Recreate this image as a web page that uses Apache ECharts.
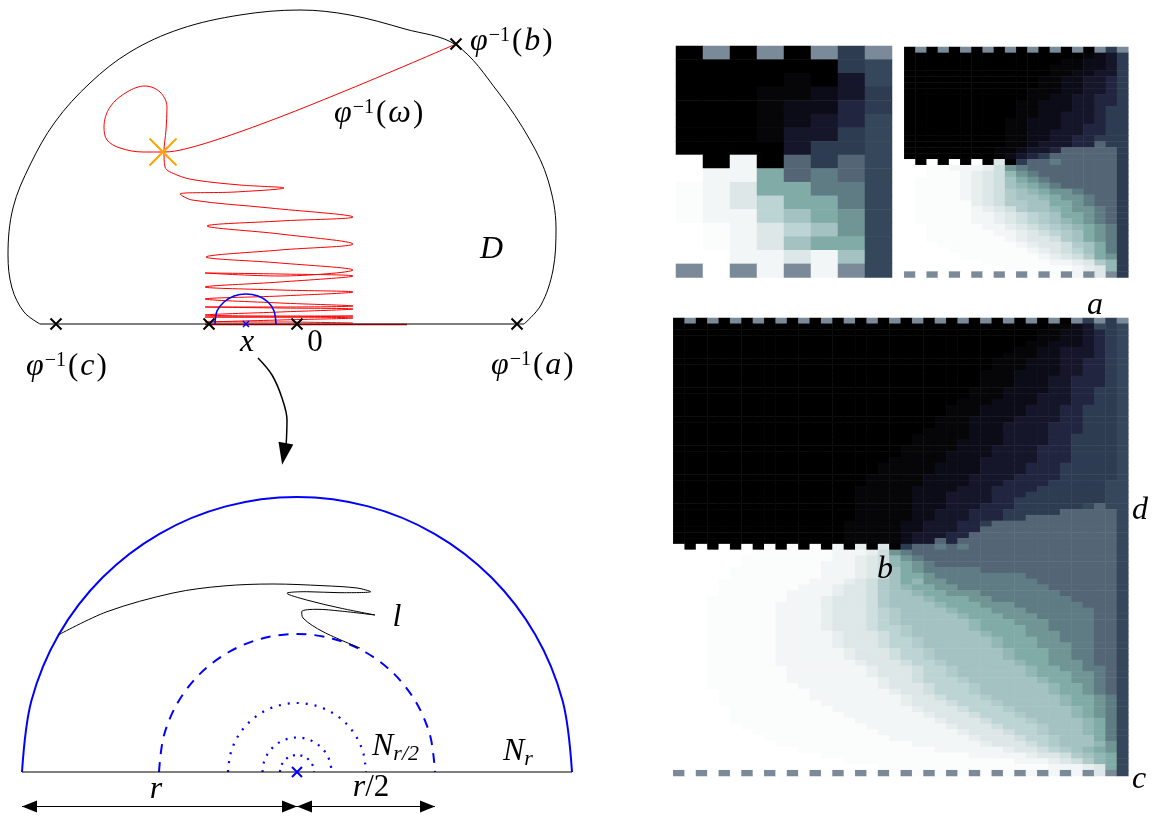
<!DOCTYPE html>
<html><head><meta charset="utf-8">
<style>html,body{margin:0;padding:0;background:#fff}#c{width:1154px;height:818px}</style>
<script src="https://cdn.jsdelivr.net/npm/echarts@6/dist/echarts.min.js"></script>
</head><body><div id="c"></div>
<script>
// level alphabet for the three heat panels
const LEVELS = '0123456789avbzcydxefwg';
const LEVEL_COLORS = ['#000000','#060609','#0c0c18','#16162b','#22253f','#2e3c52','#35475a','#546676','#5f7c84','#719594','#81aba6','#92b7b4','#a3c2c1','#b0cbca','#bdd4d4','#cfdede','#dde7e7','#e8eeee','#f3f6f6','#fbfcfc','#ffffff','#7b8a99'];

const panelA = [
'0g0g0g5g','00000056','00001036','00011235','00012245','00012346','00013356','00003556',
'w0e07576','weea7876','fedaa886','fedcaa86','feecba96','wfedcb96','wfedbaa6','wweedeb6','gwgegeg6'
];

const panelB = [
'0g0g0g0g0g 0g0g0g0g5g',
'0000000000 0000001235',
'0000000000 0000112235',
'0000000000 0001112235',
'0000000000 0001122335',
'0000000000 0011223345',
'0000000000 0011223345',
'0000000000 0111223345',
'0000000000 0112233445',
'0000000000 1122233445',
'0000000000 1122233455',
'0000000000 1122333455',
'0000000001 1222333455',
'0000000001 1222334455',
'0000000001 1223334455',
'0000000001 1223344555',
'0000000001 1233344755',
'0000000011 2334777775',
'0000000012 3457777775',
'w0w0w0w0d0 5778777775',
'wwffeeexy9 8777777775',
'wwfffexdyv 9877777775',
'wffffexdyb a987777775',
'wffffexdyb va98777775',
'wffffexdyz bva9987775',
'wffffexdyz bbva998775',
'wfffffxdyz zbbaa98775',
'wfffffexdy zbbva99875',
'wfffffeexd yczbaa9875',
'wfffffeexd yczbva9875',
'wwfffffeex dyczbva985',
'wwffffffee xdyczba985',
'wwfffffffe xddyzba985',
'wwwfffffff exddyzba85',
'wwwwffffff fexdycba85',
'wwwwwfffff ffexdyza95',
'wwwwwwwfff fffeexdzv5',
'wwwwwwwwwf fffffexdv5',
'gwgwgwgwgw gfgfgegdg5'
];

const panelC = [
'0g0g0g0g0g 0g0g0g0g0g 0g0g0g0g0g 0g0g0g5g5g',
'0000000000 0000000000 0000000000 0001123656',
'0000000000 0000000000 0000000000 0011223456',
'0000000000 0000000000 0000000000 0011223456',
'0000000000 0000000000 0000000000 0112223456',
'0000000000 0000000000 0000000000 1122333456',
'0000000000 0000000000 0000000001 1122333456',
'0000000000 0000000000 0000000011 1222334456',
'0000000000 0000000000 0000000011 1222334456',
'0000000000 0000000000 0000000111 2222334456',
'0000000000 0000000000 0000000111 2223344456',
'0000000000 0000000000 0000000111 2223344456',
'0000000000 0000000000 0000001112 2223344556',
'0000000000 0000000000 0000001112 2233344556',
'0000000000 0000000000 0000011122 2233344556',
'0000000000 0000000000 0000111222 2333445556',
'0000000000 0000000000 0000111222 2333445556',
'0000000000 0000000000 0001112222 3333445556',
'0000000000 0000000000 0001112223 3334445556',
'0000000000 0000000000 0011112223 3334445556',
'0000000000 0000000000 0111112223 3334455556',
'0000000000 0000000000 0111122223 3334455556',
'0000000000 0000000000 1111122233 3344455556',
'0000000000 0000000000 1111222233 3344455556',
'0000000000 0000000001 1111222333 3344455556',
'0000000000 0000000011 1112222333 3444555556',
'0000000000 0000000011 1112222333 3444555556',
'0000000000 0000000111 1122223333 4444555556',
'0000000000 0000000111 1122223334 4445555566',
'0000000000 0000001111 1222233344 4455555566',
'0000000000 0000001111 1222333344 4555555566',
'0000000000 0000001111 1222333344 5555555566',
'0000000000 0000001111 1222333444 5555556766',
'0000000000 0000001111 1223334445 5555777776',
'0000000000 0000001111 1223334445 5777777776',
'0000000000 0000011111 2233344577 7777777776',
'0000000000 0000011111 2233344777 7777777776',
'0000000000 0000011111 2333447777 7777777776',
'0000000000 0000011111 2337477777 7777777776',
'w0w0w0w0w0 w0w0e0x0d0 5778787777 7777777776',
'wwwwwwwfff ffffeeexy9 8777777777 7777777776',
'wwwwwwffff ffffeexdyv 9877777777 7777777776',
'wwwwwwffff fffeeexdyv a987777777 7777777776',
'wwwwwfffff fffeeexdyb a988888777 7777777776',
'wwwwwfffff fffeeexdyb aa98888888 8777777776',
'wwwwffffff ffeeexdyzb av99888888 8877777776',
'wwwwffffff feeexddyzb vaa9988888 8887777776',
'wwwwffffff eeeexddyzb bvaa999888 8888777776',
'wwwfffffff eeexdddyzb bbvaaa9988 8888877776',
'wwwffffffe eeexdddyzb bbbvaaa999 8888887776',
'wwwffffffe eeexdddycz bbbbvaaa99 9888888776',
'wwwffffffe eeexdddycz bbbbbvaaa9 9988888776',
'wwwffffffe eeexdddycz bbbbbbvaaa 9998888776',
'wwwffffffe eeexdddycc zbbbbbvaaa a998888776',
'wwwffffffe eeeexdddyc zbbbbbbvaa a999888776',
'wwwffffffe eeeexdddyc czbbbbbbva aa99888776',
'wwwffffffe eeeexdddyc czbbbbbbva aa99988776',
'wwwffffffe eeeeexdddy cczbbbbbbv aaa9988776',
'wwwffffffe eeeeexdddy cczbbbbbbv aaa9988776',
'wwwffffffe eeeeeexddd ycczbbbbbb vaa9998776',
'wwwfffffff eeeeeeexdd dycczbbbbb bvaa998876',
'wwwfffffff eeeeeeexdd dycczbbbbb bvaaa99876',
'wwwfffffff eeeeeeeexd dyccczbbbb bbvaa99876',
'wwwfffffff feeeeeeexd ddyccczbbb bbbvaa9876',
'wwwwffffff ffeeeeeeex ddyccczbbb bbbvaa9876',
'wwwwffffff ffeeeeeeee xddyccczbb bbbbvaa986',
'wwwwffffff fffeeeeeee xdddyccczb bbbbvaa986',
'wwwwwfffff ffffeeeeee exdddycccz bbbbbva986',
'wwwwwfffff fffffeeeee eexdddyccc zbbbbva986',
'wwwwwfffff ffffffeeee eeexdddycc czbbbbva86',
'wwwwwwffff fffffffeee eeeexdddyc cczbbbva86',
'wwwwwwwfff ffffffffee eeeeexdddy cczbbbva86',
'wwwwwwwwff fffffffffe eeeeeexddd ycczbbba86',
'wwwwwwwwwf ffffffffff feeeeeexdd dyczbbbv96',
'wwwwwwwwww wfffffffff fffeeeeeex ddyczbva96',
'wwwwwwwwww wwwfffffff ffffffeeee exddyzbva6',
'wwwwwwwwww wwwwwfffff ffffffffff eeexdyzva6',
'wwwwwwwwww wwwwwwwwff ffffffffff fffeeexda6',
'gwgwgwgwgw gwgwgwgwgw gfgfgfgfgf gegegegdg6'
];

// left diagram curves, read in picture units
const domainEdge = [[40,324],[24,312],[12,288],[8,255],[13,208],[30,165],[55,122],[90,83],[130,52],[180,29],[240,15],[300,10],[350,15],[405,29],[456,45],[498,92],[530,140],[548,180],[556,228],[553,270],[541,305],[524,324]];
const domainBase = [[40,324],[524,324]];
const redPath = [[456,44],[400,68],[340,93],[280,117],[225,137],[185,149],[164,152],[143,152],[120,148],[107,140],[104,127],[110,107],[127,92],[145,86],[160,92],[167,107],[166,130],[164,152],[165,167],[177,175],[195,180],[240,185],[284,188],[235,192],[180,194],[192,200],[270,208],[353,217],[280,221],[207,226],[280,234],[353,244],[280,250],[206,257],[280,263],[353,270],[280,276],[205,273],[280,274],[353,276],[280,282],[205,287],[280,290],[353,292],[280,296],[205,299],[280,303],[353,306],[280,307],[205,307],[280,308],[353,309],[280,312],[205,315],[280,316],[353,316],[280,317],[205,317],[280,317],[353,318],[280,320],[205,322],[280,322],[353,323]];
const darkRedBase = [[205,324.5],[407,324.5]];
const smallArc = [[215,324],[217,311],[224,302],[234,296],[246,294],[258,296],[268,302],[274,311],[276,324]];
const bendArrow = [[258,358],[272,375],[282,398],[287,420],[286,448]];
const blueHalf = [[22,772],[31.4,700.8],[58.8,634.5],[102.5,577.5],[159.5,533.8],[225.8,506.4],[297,497],[368.2,506.4],[434.5,533.8],[491.5,577.5],[535.2,634.5],[562.6,700.8],[572,772]];
const dashedHalf = [[159,772],[163.7,736.3],[177.5,703],[199.4,674.4],[228,652.5],[261.3,638.7],[297,634],[332.7,638.7],[366,652.5],[394.6,674.4],[416.5,703],[430.3,736.3],[435,772]];
const dottedOuter = [[228,772],[230.4,754.1],[237.2,737.5],[248.2,723.2],[262.5,712.2],[279.1,705.4],[297,703],[314.9,705.4],[331.5,712.2],[345.8,723.2],[356.8,737.5],[363.6,754.1],[366,772]];
const dottedMid = [[262.5,772],[263.7,763],[267.1,754.7],[272.6,747.6],[279.7,742.1],[288.1,738.7],[297,737.5],[305.9,738.7],[314.3,742.1],[321.4,747.6],[326.9,754.7],[330.3,763],[331.5,772]];
const dottedInner = [[280,772],[280.6,767.6],[282.3,763.5],[285,760],[288.5,757.3],[292.6,755.6],[297,755],[301.4,755.6],[305.5,757.3],[309,760],[311.7,763.5],[313.4,767.6],[314,772]];
const halfBase = [[22,772],[572,772]];
const lCurve = [[58.3,635],[107,611.7],[173,593],[223,586],[273,584],[323,585.7],[357,588],[370.7,591.7],[340,592.7],[306.7,591.7],[287,593.3],[306.7,600],[340,608],[375,615],[340,611],[317,609.3],[301.7,611.7],[303,618],[323,631.7],[360,648]];
const arrowR = [[22,806.5],[297,806.5]];
const arrowR2 = [[297,806.5],[435,806.5]];
const blackCross = [[56,324],[209,324],[297,324],[517,324],[456,44]];
const orangeCross = [[163,152]];
const blueCrossSmall = [[246,324]];
const blueCrossBig = [[297,772]];
const headsLeft = [[29.5,806.5],[304.5,806.5]];
const headsRight = [[289.5,806.5],[427.5,806.5]];
const headBend = [[284,454]];

const X_PATH = 'path://M0 0L10 10M10 0L0 10';

function toCells(rows){
  const out=[];
  rows.forEach((r,y)=>{ r.replace(/ /g,'').split('').forEach((ch,x)=>{ out.push([x,y,LEVELS.indexOf(ch)]); }); });
  return out;
}
function idx(n){ return Array.from({length:n},(_, i)=>String(i)); }
function line(points,color,width,smooth,type,extra){
  return Object.assign({type:'line',xAxisIndex:0,yAxisIndex:0,data:points,showSymbol:false,symbol:'none',smooth:smooth,silent:true,
    lineStyle:{color:color,width:width,type:type||'solid',cap:'butt'},z:3},extra||{});
}
function cross(points,color,size,width){
  return {type:'scatter',xAxisIndex:0,yAxisIndex:0,data:points,symbol:X_PATH,symbolSize:size,silent:true,z:6,
    itemStyle:{color:'none',borderColor:color,borderWidth:width,opacity:1}};
}
function head(points,rot,size){
  return {type:'scatter',xAxisIndex:0,yAxisIndex:0,data:points,symbol:'triangle',symbolSize:size,symbolRotate:rot,silent:true,z:6,itemStyle:{color:'#000',opacity:1}};
}
function heat(rows,i){
  return {type:'heatmap',xAxisIndex:i,yAxisIndex:i,data:toCells(rows),silent:true,progressive:0,z:1,itemStyle:{borderWidth:0}};
}
function cat(n,grid,inv){ return {type:'category',gridIndex:grid,data:idx(n),show:false,inverse:!!inv,boundaryGap:true}; }

const SERIF='"Liberation Serif","DejaVu Serif",serif';
const richBase={
  i:{fontFamily:SERIF,fontStyle:'italic',fontSize:32,color:'#000'},
  n:{fontFamily:SERIF,fontSize:31,color:'#000'},
  pi:{fontFamily:SERIF,fontStyle:'italic',fontSize:32,color:'#000',padding:[0,1,0,1]},
  pn:{fontFamily:SERIF,fontSize:31,color:'#000',padding:[0,1,0,1]},
  s:{fontFamily:SERIF,fontSize:20,color:'#000',padding:[0,1,13,0]},
  u:{fontFamily:SERIF,fontStyle:'italic',fontSize:22,color:'#000',padding:[14,0,0,0]}
};
function txt(x,y,text,align){
  return {type:'text',x:x,y:y,z:50,silent:true,style:{text:text,align:align||'left',verticalAlign:'middle',rich:richBase,fontFamily:SERIF,fontSize:31,fill:'#000'}};
}
const phi=(c)=>'{pi|φ}{s|−1}{pn|(}{pi|'+c+'}{pn|)}';
const labels=[
  txt(469,42,phi('b')),txt(333,114,phi('ω')),txt(25,367,phi('c')),txt(490,366,phi('a')),
  txt(480,250,'{i|D}'),txt(247,343,'{i|x}','center'),txt(315,343,'{n|0}','center'),
  txt(397,618,'{i|l}','center'),
  txt(372,747,'{i|N}{u|r/2}'),txt(503,752,'{i|N}{u|r}'),
  txt(156,790,'{i|r}','center'),txt(371,788,'{i|r}{n|/2}','center'),
  txt(1095,306,'{i|a}','center'),txt(885,570,'{i|b}','center'),txt(1139,780,'{i|c}','center'),txt(1140,511,'{i|d}','center')
];

const chart=echarts.init(document.getElementById('c'),null,{renderer:'canvas',width:1154,height:818});
chart.setOption({
  animation:false,
  backgroundColor:'#fff',
  grid:[
    {left:0,top:0,width:1154,height:818,containLabel:false},
    {left:676,top:46,width:216,height:231.5},
    {left:904.3,top:47,width:224,height:230.5},
    {left:673.3,top:318,width:455,height:458}
  ],
  xAxis:[
    {type:'value',gridIndex:0,min:0,max:1154,show:false},
    cat(8,1),cat(20,2),cat(40,3)
  ],
  yAxis:[
    {type:'value',gridIndex:0,min:0,max:818,inverse:true,show:false},
    cat(17,1,true),cat(39,2,true),cat(79,3,true)
  ],
  visualMap:[{type:'continuous',show:false,min:0,max:21,seriesIndex:[0,1,2],inRange:{color:LEVEL_COLORS}}],
  series:[
    heat(panelA,1),heat(panelB,2),heat(panelC,3),
    line(domainEdge,'#000',1,0.35),
    line(domainBase,'#000',1,false),
    line(redPath,'#ff0000',1,0.35),
    line(darkRedBase,'#800000',1.5,false),
    line(smallArc,'#0000ff',1.6,0.33),
    line(bendArrow,'#000',1.5,0.35),
    line(blueHalf,'#0000ff',2,0.33),
    line(dashedHalf,'#0000ff',2,0.33,[10,8]),
    line(dottedOuter,'#0000ff',2.2,0.33,[2,7]),
    line(dottedMid,'#0000ff',2.2,0.33,[2,6.5]),
    line(dottedInner,'#0000ff',2.2,0.33,[2,5.5]),
    line(halfBase,'#000',1,false),
    line(lCurve,'#000',1,0.33),
    line(arrowR,'#000',1,false),
    line(arrowR2,'#000',1,false),
    cross(blackCross,'#000',11,2),
    cross(orangeCross,'#ffa500',27,2),
    cross(blueCrossSmall,'#0000ff',6,1.5),
    cross(blueCrossBig,'#0000ff',10,2),
    head(headsLeft,90,[12,15]),
    head(headsRight,-90,[12,15]),
    head(headBend,170,[15,22])
  ],
  graphic:{elements:labels}
});
</script></body></html>
